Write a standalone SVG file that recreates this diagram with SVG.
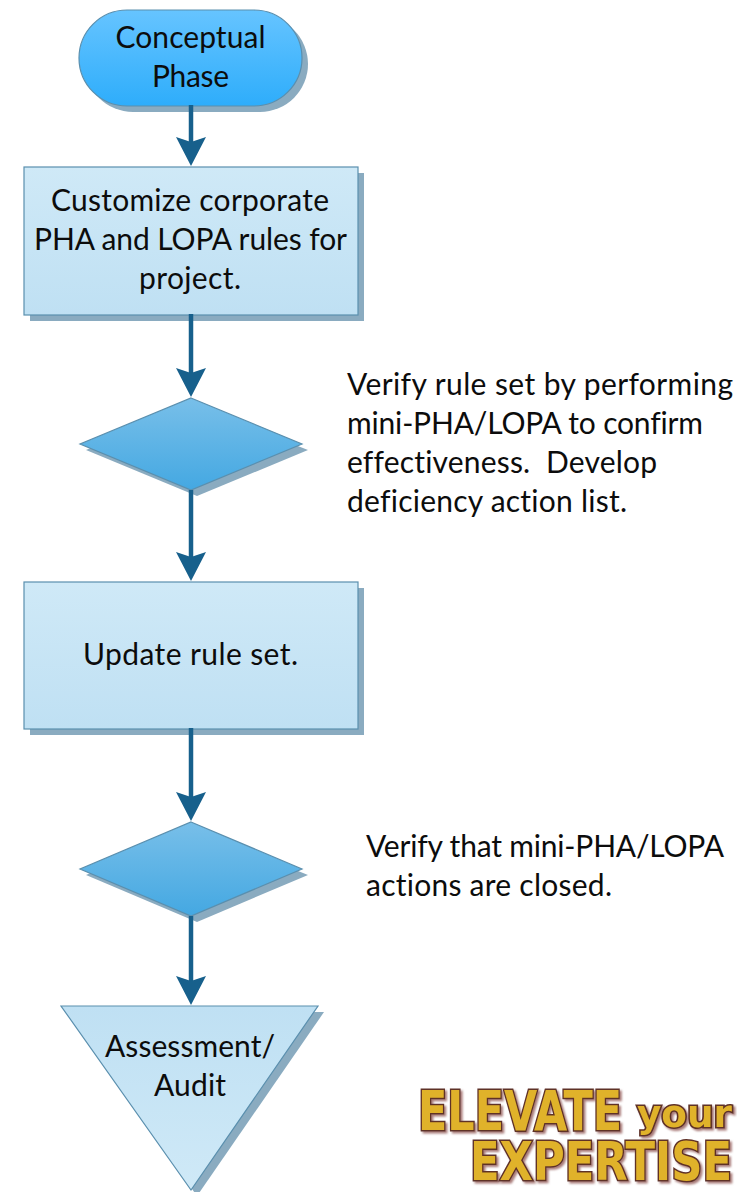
<svg xmlns="http://www.w3.org/2000/svg" width="738" height="1192" viewBox="0 0 738 1192">
<style>
.t{font-family:"Lato","Carlito","Open Sans",sans-serif;font-size:30px;fill:#0c0c0c;font-variant-ligatures:none;white-space:pre}
.m{text-anchor:middle}
.sh{fill:#8aabc0}
.o{stroke:#5a8fae;stroke-width:1.2}
.c{stroke:#17608c;stroke-width:4.5;fill:none}
.h{fill:#17608c}
.l{font-family:"Liberation Sans Narrow","DejaVu Sans Condensed",sans-serif;font-weight:700;fill:#e0b22a;stroke:#5e3028;stroke-width:3;paint-order:stroke;stroke-linejoin:miter;filter:url(#ls)}
</style>
<defs>
<linearGradient id="a" x1="0" y1="0" x2="0" y2="1"><stop offset="0" stop-color="#66c4ff"/><stop offset="1" stop-color="#2eadfb"/></linearGradient>
<linearGradient id="b" x1="0" y1="0" x2="0" y2="1"><stop offset="0" stop-color="#cfe9f7"/><stop offset="1" stop-color="#bfe0f3"/></linearGradient>
<linearGradient id="b2" x1="0" y1="0" x2="0" y2="1"><stop offset="0" stop-color="#bfe0f3"/><stop offset="1" stop-color="#cfe9f7"/></linearGradient>
<linearGradient id="d" x1="0" y1="0" x2="0" y2="1"><stop offset="0" stop-color="#78bfe9"/><stop offset="1" stop-color="#44a8e2"/></linearGradient>
<filter id="ls" x="-5%" y="-10%" width="110%" height="125%"><feDropShadow dx="2" dy="2" stdDeviation="0.8" flood-color="#a87a78"/></filter>
<path id="ah" d="M-15 -29 L0 -24 L15 -29 L0 0 Z"/>
</defs>
<rect width="738" height="1192" fill="#fff"/>
<g id="n1">
<rect class="sh" x="85" y="16" width="223" height="96" rx="48"/>
<rect class="o" x="79" y="10" width="223" height="96" rx="48" fill="url(#a)"/>
<text class="t m" x="190.500" y="48" textLength="150">Conceptual</text>
<text class="t m" x="190.500" y="87" textLength="77">Phase</text>
</g>
<g id="n2">
<rect class="sh" x="30" y="173" width="334" height="148"/>
<rect class="o" x="24" y="167" width="334" height="148" fill="url(#b)"/>
<text class="t m" x="190" y="211" textLength="278">Customize corporate</text>
<text class="t m" x="190.500" y="250" textLength="313">PHA and LOPA rules for</text>
<text class="t m" x="190" y="289" textLength="102">project.</text>
</g>
<g id="n3">
<path class="sh" d="M191 404 L308 450 L197 496 L86 450 Z"/>
<path class="o" d="M191 398 L302 444 L191 490 L80 444 Z" fill="url(#d)"/>
</g>
<g id="n4">
<rect class="sh" x="30" y="588" width="334" height="147"/>
<rect class="o" x="24" y="582" width="334" height="147" fill="url(#b)"/>
<text class="t m" x="190.500" y="665" textLength="215">Update rule set.</text>
</g>
<g id="n5">
<path class="sh" d="M191 828 L308 875 L197 922 L86 875 Z"/>
<path class="o" d="M191 822 L302 869 L191 916 L80 869 Z" fill="url(#d)"/>
</g>
<g id="n6">
<path class="sh" d="M67 1012 L324 1012 L197 1196 Z"/>
<path class="o" d="M61 1006 L318 1006 L191 1190 Z" fill="url(#b2)"/>
<text class="t m" x="190" y="1057" textLength="170">Assessment/</text>
<text class="t m" x="190" y="1096" textLength="72">Audit</text>
</g>
<g id="connectors">
<path class="c" d="M191 105V145"/><use href="#ah" class="h" x="191" y="166"/>
<path class="c" d="M191 314V376"/><use href="#ah" class="h" x="191" y="397"/>
<path class="c" d="M191 490V560"/><use href="#ah" class="h" x="191" y="581"/>
<path class="c" d="M191 728V800"/><use href="#ah" class="h" x="191" y="821"/>
<path class="c" d="M191 916V984"/><use href="#ah" class="h" x="191" y="1005"/>
</g>
<g id="note1">
<text class="t" x="347" y="395" textLength="386">Verify rule set by performing</text>
<text class="t" x="347" y="434" textLength="356">mini-PHA/LOPA to confirm</text>
<text class="t" x="347" y="473" textLength="310">effectiveness.  Develop</text>
<text class="t" x="347" y="512" textLength="280">deficiency action list.</text>
</g>
<g id="note2">
<text class="t" x="366" y="857" textLength="358">Verify that mini-PHA/LOPA</text>
<text class="t" x="366" y="896" textLength="246">actions are closed.</text>
</g>
<g id="logo">
<text class="l" x="418" y="1130" font-size="55" textLength="204" lengthAdjust="spacingAndGlyphs">ELEVATE</text>
<text class="l" x="637" y="1127" font-size="38" textLength="95" lengthAdjust="spacingAndGlyphs">your</text>
<text class="l" x="470" y="1180" font-size="53" textLength="262" lengthAdjust="spacingAndGlyphs">EXPERTISE</text>
</g>
</svg>
